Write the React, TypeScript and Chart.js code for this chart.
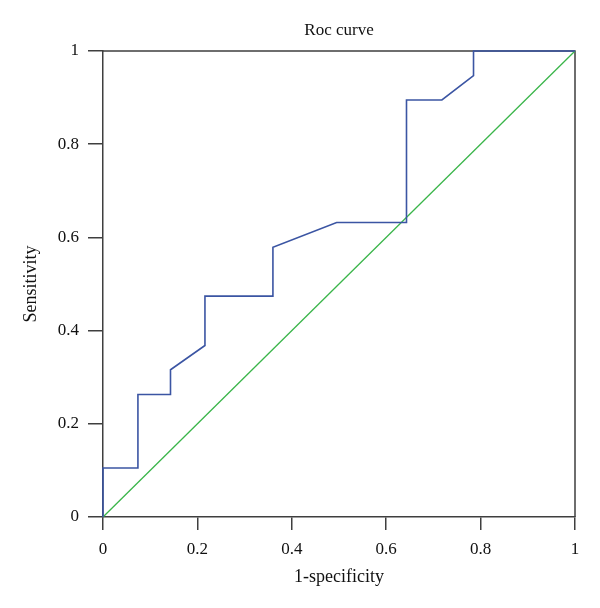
import React, { useEffect, useRef } from "react";
import { Chart, registerables } from "chart.js";

Chart.register(...registerables);

const titleText = "Roc curve";
const xTitle = "1-specificity";
const yTitle = "Sensitivity";
const tickValues = [0, 0.2, 0.4, 0.6, 0.8, 1];
const tickLabels = ["0", "0.2", "0.4", "0.6", "0.8", "1"];

// ROC curve (1-specificity, sensitivity)
const rocFpr = [0, 0, 0.074, 0.074, 0.143, 0.143, 0.216, 0.216, 0.36, 0.36, 0.495, 0.643, 0.643, 0.718, 0.785, 0.785, 1];
const rocTpr = [0, 0.105, 0.105, 0.263, 0.263, 0.316, 0.368, 0.474, 0.474, 0.579, 0.632, 0.632, 0.895, 0.895, 0.947, 1, 1];

// Reference diagonal
const refX = [0, 1];
const refY = [0, 1];

const FONT = "'Liberation Serif', 'DejaVu Serif', serif";
const AXIS = "#3f3f3f";

const framePlugin = {
  id: "frame",
  beforeDatasetsDraw(chart: any) {
    const { ctx, chartArea } = chart;
    ctx.save();
    ctx.strokeStyle = AXIS;
    ctx.lineWidth = 1.5;
    ctx.beginPath();
    ctx.moveTo(chartArea.left, chartArea.top);
    ctx.lineTo(chartArea.right, chartArea.top);
    ctx.lineTo(chartArea.right, chartArea.bottom);
    ctx.stroke();
    ctx.restore();
  },
  afterDraw(chart: any) {
    const { ctx, chartArea } = chart;
    ctx.save();
    ctx.fillStyle = "#111";
    ctx.font = `17px ${FONT}`;
    ctx.textAlign = "center";
    ctx.textBaseline = "middle";
    ctx.fillText(titleText, (chartArea.left + chartArea.right) / 2, 31);
    ctx.restore();
  },
};

export default function App() {
  const ref = useRef<HTMLCanvasElement | null>(null);

  useEffect(() => {
    if (!ref.current) return;
    const chart = new Chart(ref.current, {
      type: "scatter",
      data: {
        datasets: [
          {
            label: "Reference",
            data: refX.map((x, i) => ({ x, y: refY[i] })),
            showLine: true,
            borderColor: "#3ab54a",
            borderWidth: 1.3,
            pointRadius: 0,
            tension: 0,
            fill: false,
            clip: false,
            order: 2,
          },
          {
            label: "ROC",
            data: rocFpr.map((x, i) => ({ x, y: rocTpr[i] })),
            showLine: true,
            borderColor: "#3b55a3",
            borderWidth: 1.6,
            pointRadius: 0,
            tension: 0,
            fill: false,
            clip: false,
            order: 1,
          },
        ],
      },
      options: {
        responsive: false,
        animation: false,
        layout: { padding: { top: 51, right: 25, bottom: 0, left: 0 } },
        plugins: {
          legend: { display: false },
          tooltip: { enabled: false },
          title: { display: false },
        },
        scales: {
          x: {
            type: "linear",
            min: 0,
            max: 1,
            afterBuildTicks: (scale: any) => {
              scale.ticks = tickValues.map((v) => ({ value: v }));
            },
            afterFit: (scale: any) => {
              scale.height = 91;
            },
            ticks: {
              callback: (v: any) => tickLabels[tickValues.indexOf(Number(v))] ?? "",
              color: "#111",
              font: { family: FONT, size: 17 },
              padding: 9,
              maxRotation: 0,
            },
            grid: {
              drawOnChartArea: false,
              drawTicks: true,
              tickLength: 13,
              color: AXIS,
              lineWidth: 1.5,
            },
            border: { display: true, color: AXIS, width: 1.5 },
            title: {
              display: true,
              text: xTitle,
              color: "#111",
              font: { family: FONT, size: 18 },
              padding: { top: 0, bottom: 20 },
            },
          },
          y: {
            type: "linear",
            min: 0,
            max: 1,
            afterBuildTicks: (scale: any) => {
              scale.ticks = tickValues.map((v) => ({ value: v }));
            },
            afterFit: (scale: any) => {
              scale.width = 103;
            },
            ticks: {
              callback: (v: any) => tickLabels[tickValues.indexOf(Number(v))] ?? "",
              color: "#111",
              font: { family: FONT, size: 17 },
              padding: 9,
            },
            grid: {
              drawOnChartArea: false,
              drawTicks: true,
              tickLength: 15,
              color: AXIS,
              lineWidth: 1.5,
            },
            border: { display: true, color: AXIS, width: 1.5 },
            title: {
              display: true,
              text: yTitle,
              color: "#111",
              font: { family: FONT, size: 18 },
              padding: { top: 20, bottom: 0 },
            },
          },
        },
      },
      plugins: [framePlugin],
    } as any);
    return () => chart.destroy();
  }, []);

  return (
    <div style={{ position: "absolute", left: 0, top: 0, width: 600, height: 608, background: "#fff" }}>
      <canvas ref={ref} width={600} height={608} style={{ width: 600, height: 608, display: "block" }} />
    </div>
  );
}
